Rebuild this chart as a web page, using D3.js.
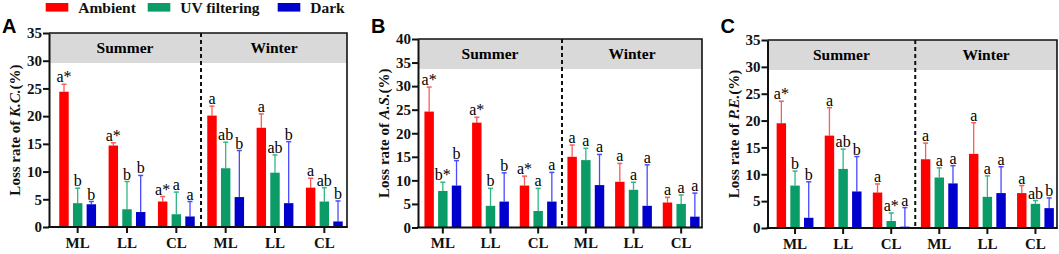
<!DOCTYPE html>
<html>
<head>
<meta charset="utf-8">
<script src="https://cdn.jsdelivr.net/npm/d3@7"></script>
<style>
  body { margin: 0; background: #fff; }
  svg { display: block; }
  .serif { font-family: "Liberation Serif", "Times New Roman", serif; }
</style>
</head>
<body>
<div id="chart"></div>
<script>
// groups along the x axis (summer first, then winter)
var groupKeys = ["S-ML", "S-LL", "S-CL", "W-ML", "W-LL", "W-CL"];
var groupTicks = ["ML", "LL", "CL", "ML", "LL", "CL"];
var seasons = ["Summer", "Winter"];
var series = ["Ambient", "UV filtering", "Dark"];
var colors = ["#ff0000", "#0a9b67", "#0000cc"];
var errColors = ["#ff5a5a", "#2fb884", "#4a4aff"];

// A: K.C.
var kcMean = [
    [24.4, 14.7, 4.6, 20.1, 17.9, 7.1],
    [4.3, 3.2, 2.3, 10.6, 9.8, 4.6],
    [4.1, 2.7, 1.9, 5.4, 4.3, 1.0]
];
var kcSd = [
    [1.35, 0.5, 0.9, 1.7, 2.5, 1.7],
    [2.7, 5.0, 4.0, 4.7, 3.2, 2.5],
    [0.5, 6.6, 2.7, 8.4, 11.1, 3.7]
];
var kcLetters = [
    ["a*", "a*", "a*", "a", "a", "a"],
    ["b", "b", "a", "ab", "ab", "ab"],
    ["b", "b", "a", "b", "b", "b"]
];

// B: A.S.
var asMean = [
    [24.6, 22.25, 8.9, 15.0, 9.7, 5.3],
    [7.75, 4.6, 3.5, 14.3, 8.0, 5.0],
    [8.9, 5.5, 5.5, 9.0, 4.6, 2.3]
];
var asSd = [
    [5.2, 1.15, 2.0, 2.5, 3.9, 1.1],
    [1.85, 3.7, 4.8, 2.5, 1.6, 1.9],
    [5.3, 6.1, 6.2, 6.5, 8.7, 5.0]
];
var asLetters = [
    ["a*", "a*", "a*", "a", "a", "a"],
    ["b*", "b", "a", "a", "a", "a"],
    ["b", "b", "a", "a", "a", "a"]
];

// C: P.E.
var peMean = [
    [19.5, 17.2, 6.6, 12.8, 13.8, 6.5],
    [7.9, 11.0, 1.3, 9.4, 5.8, 4.5],
    [1.9, 6.8, 0.25, 8.3, 6.5, 3.7]
];
var peSd = [
    [4.1, 5.2, 1.6, 3.0, 5.8, 1.4],
    [2.7, 3.7, 1.5, 1.8, 3.9, 0.6],
    [6.7, 6.5, 3.55, 3.3, 4.9, 1.9]
];
var peLetters = [
    ["a*", "a", "a", "a", "a", "a"],
    ["b", "ab", "a*", "a", "a", "ab"],
    ["b", "b", "a", "a", "a", "b"]
];

var kcTicks = [0, 5, 10, 15, 20, 25, 30, 35];
var asTicks = [0, 5, 10, 15, 20, 25, 30, 35, 40];
var peTicks = [0, 5, 10, 15, 20, 25, 30, 35];

var width = 1059, height = 254;

var svg = d3.select("#chart").append("svg")
    .attr("width", width)
    .attr("height", height);

var panels = [
    {letter: "A", abbr: "K.C.", mean: kcMean, sd: kcSd, letters: kcLetters, ticks: kcTicks,
        left: 49, right: 347, top: 33, bottom: 227, bandL: 53, bandR: 349},
    {letter: "B", abbr: "A.S.", mean: asMean, sd: asSd, letters: asLetters, ticks: asTicks,
        left: 418, right: 702, top: 39, bottom: 227.5, bandL: 419, bandR: 705},
    {letter: "C", abbr: "P.E.", mean: peMean, sd: peSd, letters: peLetters, ticks: peTicks,
        left: 767.5, right: 1057, top: 40, bottom: 228, bandL: 771, bandR: 1059.5}
];

panels.forEach(function (p) {
    drawPanel(p);
});

function drawPanel(p) {
    var g = svg.append("g");

    var y = d3.scaleLinear()
        .domain([0, d3.max(p.ticks)])
        .range([p.bottom, p.top]);

    var x0 = d3.scaleBand()
        .domain(groupKeys)
        .range([p.bandL, p.bandR]);

    var x1 = d3.scaleBand()
        .domain(series)
        .range([-18.4, 18.4])
        .paddingInner(0.31);

    var divider = x0("S-CL") + x0.bandwidth();

    // grey strip
    g.append("rect")
        .attr("x", p.left)
        .attr("y", p.top)
        .attr("width", p.right - p.left)
        .attr("height", 30)
        .attr("fill", "#d9d9d9");

    g.selectAll("text.season")
        .data(seasons)
        .enter().append("text")
        .attr("class", "season serif")
        .attr("x", function (d, i) {
            return i === 0 ? (p.left + divider) / 2 : (divider + p.right) / 2;
        })
        .attr("y", p.top + 20)
        .attr("text-anchor", "middle")
        .attr("font-size", 15.5)
        .attr("font-weight", "bold")
        .text(function (d) { return d; });

    // bars
    var rows = [];
    series.forEach(function (s, si) {
        groupKeys.forEach(function (k, gi) {
            rows.push({s: s, si: si, key: k, mean: p.mean[si][gi], sd: p.sd[si][gi], label: p.letters[si][gi]});
        });
    });

    function cx(d) {
        return x0(d.key) + x0.bandwidth() / 2 + x1(d.s) + x1.bandwidth() / 2;
    }

    // error bars (upper only)
    g.selectAll("line.err")
        .data(rows)
        .enter().append("line")
        .attr("class", "err")
        .attr("x1", cx)
        .attr("x2", cx)
        .attr("y1", function (d) { return y(d.mean); })
        .attr("y2", function (d) { return y(d.mean + d.sd); })
        .attr("stroke", function (d) { return errColors[d.si]; })
        .attr("stroke-width", 1.3);

    g.selectAll("line.cap")
        .data(rows)
        .enter().append("line")
        .attr("class", "cap")
        .attr("x1", function (d) { return cx(d) - 2.5; })
        .attr("x2", function (d) { return cx(d) + 2.5; })
        .attr("y1", function (d) { return y(d.mean + d.sd); })
        .attr("y2", function (d) { return y(d.mean + d.sd); })
        .attr("stroke", function (d) { return errColors[d.si]; })
        .attr("stroke-width", 1.5);

    g.selectAll("rect.bar")
        .data(rows)
        .enter().append("rect")
        .attr("class", "bar")
        .attr("x", function (d) { return x0(d.key) + x0.bandwidth() / 2 + x1(d.s); })
        .attr("y", function (d) { return y(d.mean); })
        .attr("width", x1.bandwidth())
        .attr("height", function (d) { return p.bottom - y(d.mean); })
        .attr("fill", function (d) { return colors[d.si]; });

    g.selectAll("text.sig")
        .data(rows)
        .enter().append("text")
        .attr("class", "sig serif")
        .attr("x", cx)
        .attr("y", function (d) { return y(d.mean + d.sd) - 2; })
        .attr("text-anchor", "middle")
        .attr("font-size", 16)
        .text(function (d) { return d.label; });

    // dashed season divider
    g.append("line")
        .attr("x1", divider)
        .attr("x2", divider)
        .attr("y1", p.top)
        .attr("y2", p.bottom)
        .attr("stroke", "#111")
        .attr("stroke-width", 2)
        .attr("stroke-dasharray", "4,3");

    // frame
    g.append("path")
        .attr("d", "M" + p.left + "," + p.top + "H" + p.right + "V" + p.bottom)
        .attr("fill", "none")
        .attr("stroke", "#111")
        .attr("stroke-width", 1.6);

    g.append("line")
        .attr("x1", p.left - 1)
        .attr("x2", p.right + 0.8)
        .attr("y1", p.bottom)
        .attr("y2", p.bottom)
        .attr("stroke", "#111")
        .attr("stroke-width", 2);

    // axes
    var yAxis = d3.axisLeft(y)
        .tickValues(p.ticks)
        .tickSize(6)
        .tickSizeOuter(0);

    var yAxisGroup = g.append("g")
        .attr("transform", "translate(" + p.left + ",0)")
        .call(yAxis);
    yAxisGroup.select(".domain").attr("stroke", "#111").attr("stroke-width", 2);
    yAxisGroup.selectAll(".tick line").attr("stroke", "#111").attr("stroke-width", 2);
    yAxisGroup.selectAll(".tick text")
        .attr("class", "serif")
        .attr("font-family", null)
        .attr("font-size", 15)
        .attr("font-weight", "bold")
        .attr("fill", "#111")
        .attr("x", -7);

    var xAxis = d3.axisBottom(x0)
        .tickSize(6)
        .tickFormat(function (d, i) { return groupTicks[i]; });

    var xAxisGroup = g.append("g")
        .attr("transform", "translate(0," + p.bottom + ")")
        .call(xAxis);
    xAxisGroup.select(".domain").remove();
    xAxisGroup.selectAll(".tick line").attr("stroke", "#111").attr("stroke-width", 2);
    xAxisGroup.selectAll(".tick text")
        .attr("class", "serif")
        .attr("font-family", null)
        .attr("font-size", 15)
        .attr("font-weight", "bold")
        .attr("fill", "#111")
        .attr("y", 10);

    // y label
    var label = g.append("text")
        .attr("class", "serif")
        .attr("transform", "translate(" + (p.left - 29) + "," + ((p.top + p.bottom) / 2) + ") rotate(-90)")
        .attr("text-anchor", "middle")
        .attr("font-size", 15)
        .attr("font-weight", "bold")
        .attr("fill", "#111");
    label.append("tspan").text("Loss rate of ");
    label.append("tspan").attr("font-style", "italic").text(p.abbr);
    label.append("tspan").text("(%)");

    // panel letter
    g.append("text")
        .attr("x", p.left - 47)
        .attr("y", 33)
        .attr("font-family", "'Liberation Sans', Arial, sans-serif")
        .attr("font-weight", "bold")
        .attr("font-size", 20)
        .text(p.letter);
}

// legend
var legend = svg.selectAll("g.legend")
    .data(series)
    .enter().append("g")
    .attr("class", "legend")
    .attr("transform", function (d, i) {
        return "translate(" + [45.7, 147.7, 277.7][i] + ",3)";
    });

legend.append("rect")
    .attr("width", 22.6)
    .attr("height", 8.6)
    .attr("fill", function (d, i) { return colors[i]; });

legend.append("text")
    .attr("class", "serif")
    .attr("x", 32.5)
    .attr("y", 10)
    .attr("font-size", 15.5)
    .attr("font-weight", "bold")
    .attr("fill", "#111")
    .text(function (d) { return d; });
</script>
</body>
</html>
